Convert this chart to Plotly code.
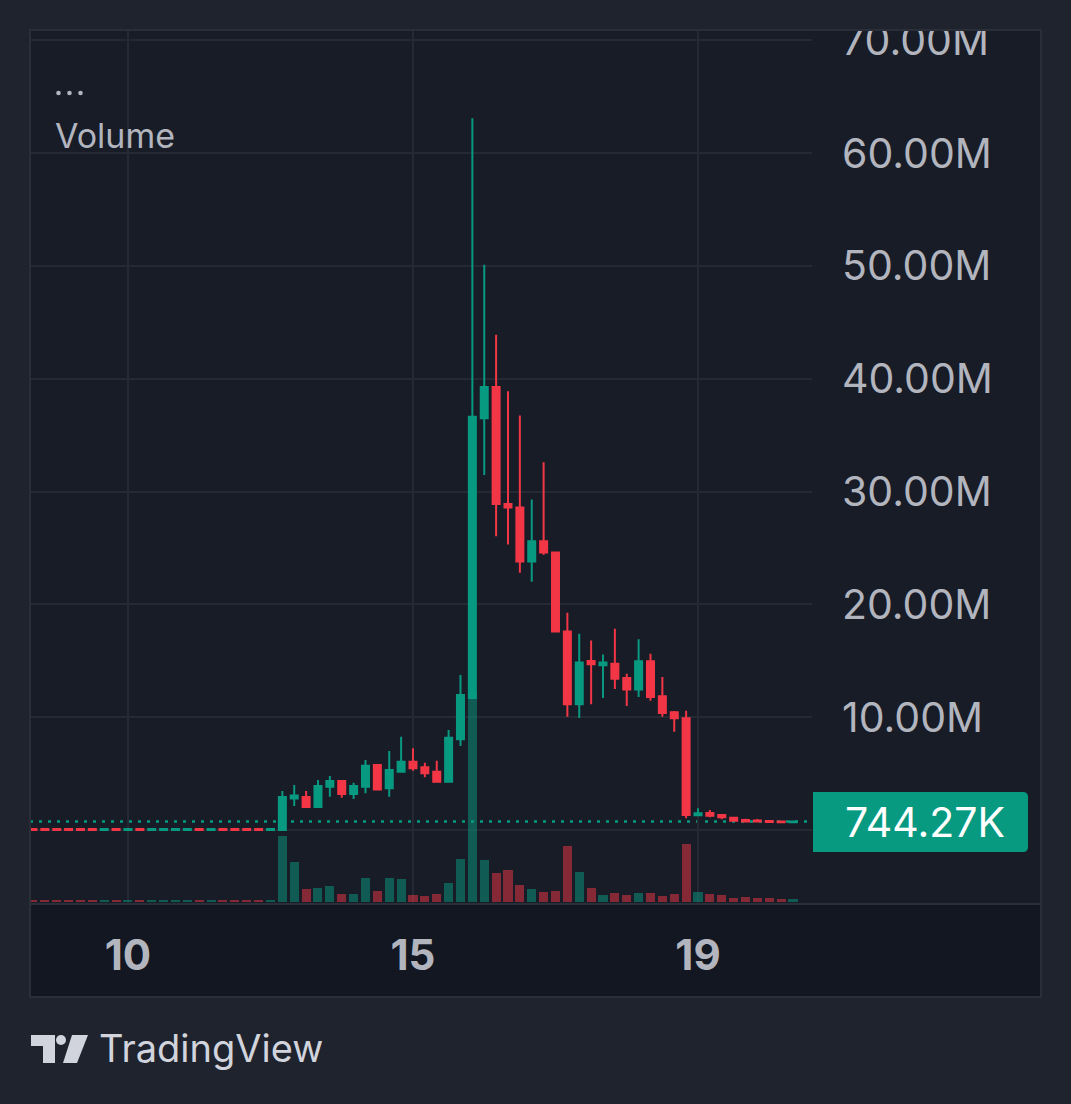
import plotly.graph_objects as go

W, H = 1071, 1104

# ---------------- data ----------------
bar_index = list(range(65))

open_ = [0.1, 0.1, 0.1, 0.1, 0.1, 0.1, 0.0, 0.1, 0.0, 0.1, 0.0, 0.0, 0.0, 0.0, 0.1, 0.0, 0.1, 0.1, 0.1, 0.1, 0.0,
         0.0, 2.8, 2.93, 2.04, 3.84, 4.34, 3.19, 3.84, 5.76, 3.7,
         5.17, 6.05, 5.56, 5.17, 4.28, 8.04, 11.7, 36.5, 39.27, 28.9,
         28.6, 23.8, 25.6, 24.6, 17.6, 11.15, 14.98, 14.6, 14.75, 13.48,
         12.45, 14.95, 11.86, 10.43, 9.9, 1.3, 1.5, 1.33, 1.09, 0.89,
         0.85, 0.8, 0.75, 0.68]

high = [0.1, 0.1, 0.1, 0.1, 0.1, 0.1, 0.1, 0.1, 0.1, 0.1, 0.1, 0.1, 0.1, 0.1, 0.1, 0.1, 0.1, 0.1, 0.1, 0.1, 0.1,
        3.46, 3.99, 3.46, 4.43, 4.79, 4.4, 4.19, 6.2, 5.85, 7.0,
        8.27, 7.24, 5.97, 6.14, 8.87, 13.74, 63.1, 50.1, 43.9, 38.9,
        36.75, 29.3, 32.6, 24.65, 19.26, 17.4, 16.8, 15.55, 17.85, 13.86,
        16.9, 15.63, 13.57, 10.55, 10.58, 1.92, 1.77, 1.39, 1.18, 1.0,
        0.98, 0.85, 0.8, 0.77]

low = [0.0, 0.0, 0.0, 0.0, 0.0, 0.0, 0.0, 0.0, 0.0, 0.0, 0.0, 0.0, 0.0, 0.0, 0.0, 0.0, 0.0, 0.0, 0.0, 0.0, 0.0,
       0.0, 2.13, 1.97, 2.0, 2.95, 2.86, 2.75, 3.25, 3.5, 2.95,
       5.08, 5.26, 4.67, 4.19, 4.19, 7.45, 11.6, 31.47, 26.05, 25.3,
       22.8, 22.0, 24.4, 17.55, 10.03, 9.94, 11.15, 11.7, 12.5, 11.0,
       11.8, 11.45, 10.03, 8.7, 1.04, 1.3, 1.13, 0.95, 0.8, 0.72,
       0.72, 0.62, 0.64, 0.66]

close = [0.0, 0.0, 0.0, 0.0, 0.0, 0.0, 0.1, 0.0, 0.1, 0.0, 0.1, 0.1, 0.1, 0.1, 0.0, 0.1, 0.0, 0.0, 0.0, 0.0, 0.1,
         2.93, 3.05, 2.04, 3.9, 4.34, 3.19, 3.9, 5.7, 3.6, 5.32,
         6.05, 5.47, 5.03, 4.28, 8.18, 11.97, 36.64, 39.27, 28.9, 28.6,
         23.8, 25.6, 24.6, 17.6, 11.15, 14.84, 14.7, 14.84, 13.4, 12.45,
         14.95, 11.8, 10.38, 9.9, 1.33, 1.48, 1.27, 1.13, 0.83, 0.76,
         0.75, 0.7, 0.68, 0.744]

volume = [2.5, 2.5, 2.5, 2.5, 2.5, 2.5, 2.5, 2.5, 2.5, 2.5, 2.5, 2.5, 2.5, 2.5, 2.5, 2.5, 2.5, 2.5, 2.5, 2.5, 2.5,
          66, 40, 13, 14, 16, 8, 8, 24, 11, 24,
          23, 7, 6, 8, 19, 43, 210, 42, 29, 32,
          17, 13, 10, 11, 56, 30, 14, 7, 9, 7,
          9, 9, 6, 8, 58, 10, 8, 7, 4, 5,
          4, 4, 3, 3]

time_tick_pos = [8, 32, 56]
time_tick_labels = ["10", "15", "19"]

price_tick_vals = [0, 10, 20, 30, 40, 50, 60, 70]
price_tick_text = ["", "10.00M", "20.00M", "30.00M", "40.00M", "50.00M", "60.00M", "70.00M"]

last_price = 0.74427
last_price_label = "744.27K"

x_range = [-0.25, 65.6]
price_range = [-6.47, 70.92]
volume_range = [-1, 872]

# ---------------- styling ----------------
UP = "#089981"
DOWN = "#f23645"
UP_VOL = "rgba(8,153,129,0.5)"
DOWN_VOL = "rgba(242,54,69,0.5)"
OUTER = "#1f232e"
PANE = "#181c27"
TAXIS = "#131722"
GRID = "#252934"
BORDER = "#2a2e39"
TEXT = "#b2b5be"
FONT = "Inter, Roboto, sans-serif"


def px(x):
    return x / W


def py(y):
    return 1 - y / H


vol_colors = [UP_VOL if c >= o else DOWN_VOL for o, c in zip(open_, close)]

fig = go.Figure()

fig.add_trace(go.Bar(
    x=bar_index, y=volume, marker=dict(color=vol_colors, line=dict(width=0)),
    width=0.76, yaxis="y", xaxis="x", showlegend=False, hoverinfo="skip",
))

fig.add_trace(go.Candlestick(
    x=bar_index, open=open_, high=high, low=low, close=close,
    increasing=dict(line=dict(color=UP, width=2), fillcolor=UP),
    decreasing=dict(line=dict(color=DOWN, width=2), fillcolor=DOWN),
    whiskerwidth=0, yaxis="y2", xaxis="x", showlegend=False, hoverinfo="skip",
))

x_dom = [px(30), px(812)]
y_dom = [py(903), py(30)]

shapes = []
# price scale background
shapes.append(dict(type="rect", xref="paper", yref="paper", x0=px(812), x1=px(1041), y0=py(903), y1=py(30),
                   fillcolor=PANE, line=dict(width=0), layer="below"))
# time axis background
shapes.append(dict(type="rect", xref="paper", yref="paper", x0=px(30), x1=px(1041), y0=py(997), y1=py(905),
                   fillcolor=TAXIS, line=dict(width=0), layer="below"))
# last price dotted line
shapes.append(dict(type="line", xref="x", yref="y2", x0=x_range[0], x1=x_range[1], y0=last_price, y1=last_price,
                   line=dict(color=UP, width=2.5, dash="3px,6px"), layer="below"))
# cover above pane (clips top label)
shapes.append(dict(type="rect", xref="paper", yref="paper", x0=px(812), x1=1, y0=py(29), y1=1,
                   fillcolor=OUTER, line=dict(width=0), layer="above"))
# frame
shapes.append(dict(type="rect", xref="paper", yref="paper", x0=px(30), x1=px(1041), y0=py(997), y1=py(30),
                   fillcolor="rgba(0,0,0,0)", line=dict(color=BORDER, width=2), layer="above"))
# separator pane / time axis
shapes.append(dict(type="line", xref="paper", yref="paper", x0=px(30), x1=px(1041), y0=py(904), y1=py(904),
                   line=dict(color=BORDER, width=2), layer="above"))
# last price label box
bx0, bx1, by0, by1, r = 813, 1028, 792, 852, 5
box_path = (f"M {px(bx0)},{py(by0)} L {px(bx1 - r)},{py(by0)} Q {px(bx1)},{py(by0)} {px(bx1)},{py(by0 + r)} "
            f"L {px(bx1)},{py(by1 - r)} Q {px(bx1)},{py(by1)} {px(bx1 - r)},{py(by1)} L {px(bx0)},{py(by1)} Z")
shapes.append(dict(type="path", xref="paper", yref="paper", path=box_path, fillcolor=UP,
                   line=dict(width=0), layer="above"))
# "..." menu dots
for cx in (58.5, 69.5, 80.5):
    shapes.append(dict(type="circle", xref="paper", yref="paper", x0=px(cx - 2.3), x1=px(cx + 2.3),
                       y0=py(95.3), y1=py(90.7), fillcolor=TEXT, line=dict(width=0), layer="above"))
# TradingView logo
LOGO = "#d1d4dc"
shapes.append(dict(type="rect", xref="paper", yref="paper", x0=px(31), x1=px(55), y0=py(1046), y1=py(1035),
                   fillcolor=LOGO, line=dict(width=0), layer="above"))
shapes.append(dict(type="rect", xref="paper", yref="paper", x0=px(43), x1=px(55), y0=py(1063), y1=py(1046),
                   fillcolor=LOGO, line=dict(width=0), layer="above"))
shapes.append(dict(type="circle", xref="paper", yref="paper", x0=px(56), x1=px(66), y0=py(1045), y1=py(1035),
                   fillcolor=LOGO, line=dict(width=0), layer="above"))
logo_path = (f"M {px(72)},{py(1035)} L {px(88)},{py(1035)} L {px(77)},{py(1063)} L {px(63)},{py(1063)} Z")
shapes.append(dict(type="path", xref="paper", yref="paper", path=logo_path, fillcolor=LOGO,
                   line=dict(width=0), layer="above"))

annotations = [
    dict(xref="paper", yref="paper", x=px(925), y=py(822), text=last_price_label, showarrow=False,
         xanchor="center", yanchor="middle", font=dict(family=FONT, size=41, color="#ffffff")),
    dict(xref="paper", yref="paper", x=px(53), y=py(135), text="Volume", showarrow=False,
         xanchor="left", yanchor="middle", font=dict(family=FONT, size=34, color=TEXT)),
    dict(xref="paper", yref="paper", x=px(97), y=py(1048), text="TradingView", showarrow=False,
         xanchor="left", yanchor="middle", font=dict(family=FONT, size=38, color=LOGO)),
]

fig.update_layout(
    width=W, height=H, autosize=False,
    margin=dict(l=0, r=0, t=0, b=0, pad=0, autoexpand=False),
    paper_bgcolor=OUTER, plot_bgcolor=PANE,
    showlegend=False, hovermode=False,
    boxgap=0.41, boxgroupgap=0, bargap=0,
    shapes=shapes, annotations=annotations,
    xaxis=dict(
        domain=x_dom, range=x_range, tickmode="array", tickvals=time_tick_pos, ticktext=time_tick_labels,
        showgrid=True, gridcolor=GRID, gridwidth=2, zeroline=False, showline=False, ticks="",
        tickfont=dict(family=FONT, size=42, color=TEXT, weight=700), ticklabelstandoff=24,
        rangeslider=dict(visible=False), fixedrange=True, automargin=False,
    ),
    yaxis=dict(
        domain=y_dom, range=volume_range, visible=False, showgrid=False, zeroline=False, fixedrange=True,
        automargin=False,
    ),
    yaxis2=dict(
        overlaying="y", side="right", anchor="x", range=price_range,
        tickmode="array", tickvals=price_tick_vals, ticktext=price_tick_text,
        showgrid=True, gridcolor=GRID, gridwidth=2, zeroline=False, showline=False, ticks="",
        tickfont=dict(family=FONT, size=41, color=TEXT), ticklabelstandoff=29, fixedrange=True,
        automargin=False,
    ),
)

fig.write_html("out.html", config={"displayModeBar": False})
